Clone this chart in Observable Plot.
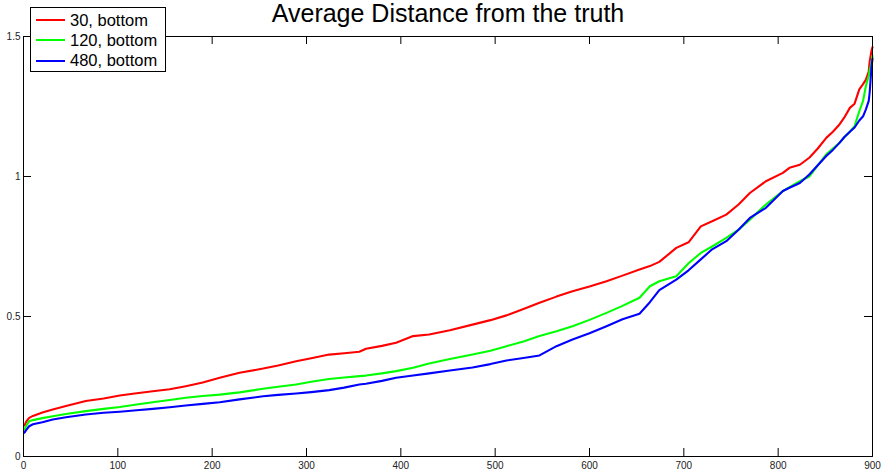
<!DOCTYPE html>
<html>
<head>
<meta charset="utf-8">
<script src="https://cdn.jsdelivr.net/npm/d3@7"></script>
<script src="https://cdn.jsdelivr.net/npm/@observablehq/plot@0.6"></script>
<style>
  html, body { margin: 0; padding: 0; background: #fff; }
  #wrap { position: relative; width: 882px; height: 472px; font-family: "Liberation Sans", Arial, Helvetica, sans-serif; }
  #title { position: absolute; left: 0; width: 896px; top: 0.5px; text-align: center; font-size: 25px; line-height: 25px; color: #000; white-space: nowrap; }
  #legend { position: absolute; left: 29.5px; top: 7px; width: 136.5px; height: 65px; box-sizing: border-box; border: 1px solid #000; background: #fff; padding-top: 2px; }
  .row { display: flex; align-items: center; height: 20.3px; font-size: 16.5px; color: #000; white-space: nowrap; }
  .swatch { width: 29px; height: 2px; margin-left: 5.5px; margin-right: 5px; flex: none; }
</style>
</head>
<body>
<div id="wrap">
  <div id="chart"></div>
  <div id="title"></div>
  <div id="legend"></div>
</div>
<script>
// Sorted per-item average distance, sampled along the item rank (0..900)
const ranks = [1, 3, 6, 10, 20, 31, 45, 66, 85, 102, 120, 137, 155, 172, 190, 208, 229, 254, 270, 289,
  305, 324, 340, 356, 363, 380, 395, 413, 430, 452, 476, 495, 512, 530, 547, 565, 582, 600, 618, 635,
  653, 664, 674, 692, 705, 718, 730, 745, 758, 770, 787, 805, 812, 823, 833, 842, 851, 858, 865, 870,
  876, 881, 886, 890, 893, 896, 897, 899, 900];

const dist30 = [0.111, 0.125, 0.138, 0.145, 0.157, 0.168, 0.180, 0.198, 0.207, 0.218,
  0.226, 0.233, 0.240, 0.251, 0.264, 0.281, 0.299, 0.314, 0.325, 0.340,
  0.351, 0.364, 0.369, 0.374, 0.385, 0.395, 0.406, 0.430, 0.436, 0.451,
  0.471, 0.487, 0.504, 0.527, 0.549, 0.571, 0.590, 0.607, 0.626, 0.646,
  0.668, 0.680, 0.695, 0.745, 0.765, 0.822, 0.840, 0.864, 0.900, 0.941,
  0.983, 1.013, 1.031, 1.042, 1.067, 1.100, 1.138, 1.160, 1.186, 1.210,
  1.245, 1.260, 1.311, 1.330, 1.346, 1.375, 1.410, 1.450, 1.462];

const dist120 = [0.096, 0.110, 0.126, 0.130, 0.137, 0.144, 0.152, 0.162, 0.170, 0.177,
  0.186, 0.194, 0.202, 0.210, 0.216, 0.221, 0.229, 0.242, 0.249, 0.257,
  0.267, 0.277, 0.282, 0.287, 0.289, 0.297, 0.305, 0.317, 0.332, 0.348,
  0.364, 0.378, 0.394, 0.411, 0.430, 0.447, 0.465, 0.488, 0.513, 0.538,
  0.567, 0.608, 0.626, 0.644, 0.690, 0.727, 0.750, 0.781, 0.810, 0.846,
  0.900, 0.948, 0.962, 0.983, 1.000, 1.040, 1.079, 1.100, 1.120, 1.140,
  1.160, 1.180, 1.233, 1.270, 1.323, 1.360, 1.380, 1.406, 1.430];

const dist480 = [0.085, 0.095, 0.108, 0.115, 0.122, 0.132, 0.140, 0.150, 0.156, 0.160,
  0.165, 0.170, 0.176, 0.182, 0.188, 0.194, 0.204, 0.215, 0.220, 0.225,
  0.230, 0.237, 0.246, 0.257, 0.260, 0.270, 0.281, 0.289, 0.297, 0.307,
  0.318, 0.330, 0.343, 0.352, 0.361, 0.394, 0.418, 0.440, 0.465, 0.490,
  0.510, 0.551, 0.594, 0.632, 0.665, 0.704, 0.740, 0.769, 0.810, 0.852,
  0.888, 0.948, 0.960, 0.977, 1.007, 1.040, 1.073, 1.095, 1.120, 1.140,
  1.160, 1.175, 1.200, 1.215, 1.240, 1.270, 1.300, 1.394, 1.420];

const seriesNames = ["30, bottom", "120, bottom", "480, bottom"];
const seriesColors = ["#ff0000", "#00ff00", "#0000ff"];
const xTicks = [0, 100, 200, 300, 400, 500, 600, 700, 800, 900];
const yTicks = [0, 0.5, 1, 1.5];
const yTickLabels = ["0", "0.5", "1", "1.5"];
const titleText = "Average Distance from the truth";

const seriesValues = [dist30, dist120, dist480];
const rows = seriesValues.flatMap((vals, s) =>
  ranks.map((r, i) => ({rank: r, dist: vals[i], series: seriesNames[s]})));

const W = 882, H = 472;
const mL = 23, mR = 10, mT = 36, mB = 16;
const innerH = H - mT - mB, innerW = W - mL - mR;
const tickLen = 8;

const chart = Plot.plot({
  width: W,
  height: H,
  marginLeft: mL,
  marginRight: mR,
  marginTop: mT,
  marginBottom: mB,
  style: {fontFamily: "'Liberation Sans', Arial, Helvetica, sans-serif", fontSize: "10px", color: "#222", background: "#fff"},
  x: {domain: [0, 900], label: null},
  y: {domain: [0, 1.5], label: null},
  color: {domain: seriesNames, range: seriesColors},
  marks: [
    Plot.line(rows, {x: "rank", y: "dist", z: "series", stroke: "series", strokeWidth: 2.1}),
    // inward ticks, mirrored on all four sides of the box
    Plot.tickX(xTicks, {x: d => d, insetTop: innerH - tickLen, stroke: "#000"}),
    Plot.tickX(xTicks, {x: d => d, insetBottom: innerH - tickLen, stroke: "#000"}),
    Plot.tickY(yTicks, {y: d => d, insetRight: innerW - tickLen, stroke: "#000"}),
    Plot.tickY(yTicks, {y: d => d, insetLeft: innerW - tickLen, stroke: "#000"}),
    Plot.axisX({ticks: xTicks, tickSize: 0, tickPadding: 5, label: null, tickFormat: d => String(d)}),
    Plot.axisY({ticks: yTicks, tickSize: 0, tickPadding: 3, label: null, tickFormat: d => yTickLabels[yTicks.indexOf(d)]}),
    Plot.frame({stroke: "#000"})
  ]
});
document.getElementById("chart").appendChild(chart);

document.getElementById("title").textContent = titleText;

const legend = document.getElementById("legend");
seriesNames.forEach((name, i) => {
  const row = document.createElement("div");
  row.className = "row";
  const sw = document.createElement("span");
  sw.className = "swatch";
  sw.style.background = seriesColors[i];
  const label = document.createElement("span");
  label.textContent = name;
  row.appendChild(sw);
  row.appendChild(label);
  legend.appendChild(row);
});
</script>
</body>
</html>
